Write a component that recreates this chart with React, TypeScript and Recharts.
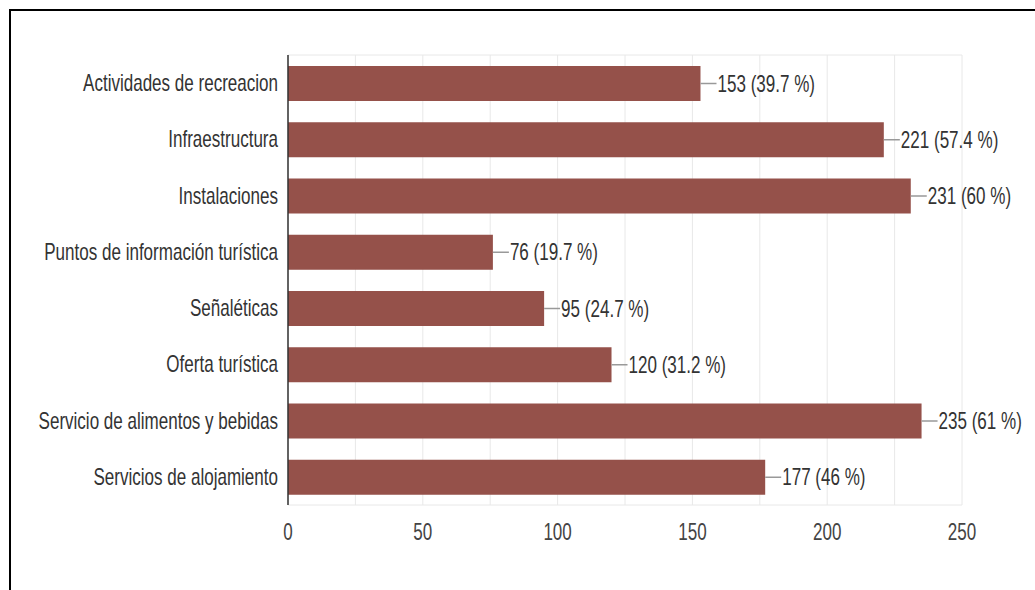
import { BarChart, Bar, XAxis, YAxis, CartesianGrid, LabelList } from 'recharts';

const categories = [
  'Actividades de recreacion',
  'Infraestructura',
  'Instalaciones',
  'Puntos de información turística',
  'Señaléticas',
  'Oferta turística',
  'Servicio de alimentos y bebidas',
  'Servicios de alojamiento',
];
const counts = [153, 221, 231, 76, 95, 120, 235, 177];
const percents = ['39.7', '57.4', '60', '19.7', '24.7', '31.2', '61', '46'];
const xTicks = [0, 25, 50, 75, 100, 125, 150, 175, 200, 225, 250];

const FONT = '"Liberation Sans", Arial, sans-serif';
const SQUEEZE = 0.71;

const data = categories.map((name, i) => ({
  name,
  value: counts[i],
  label: `${counts[i]} (${percents[i]} %)`,
}));

function YTick(props: any) {
  const { x, y, payload } = props;
  return (
    <text
      transform={`translate(${x},${y}) scale(${SQUEEZE},1)`}
      textAnchor="end"
      dy={8}
      fontSize={24}
      fontFamily={FONT}
      fill="#333"
    >
      {payload.value}
    </text>
  );
}

function XTick(props: any) {
  const { x, y, payload } = props;
  if (payload.value % 50 !== 0) return null;
  return (
    <text
      transform={`translate(${x},${y}) scale(${SQUEEZE},1)`}
      textAnchor="middle"
      dy={35}
      fontSize={24}
      fontFamily={FONT}
      fill="#444"
    >
      {payload.value}
    </text>
  );
}

function BarLabel(props: any) {
  const { x, y, width, height, value } = props;
  const end = x + width;
  const cy = y + height / 2;
  return (
    <g>
      <line x1={end} y1={cy} x2={end + 16} y2={cy} stroke="#999" strokeWidth={1.5} />
      <text
        transform={`translate(${end + 17},${cy}) scale(${SQUEEZE},1)`}
        dy={8}
        fontSize={24}
        fontFamily={FONT}
        fill="#333"
      >
        {value}
      </text>
    </g>
  );
}

export default function App() {
  return (
    <div
      style={{
        position: 'fixed',
        left: 0,
        top: 0,
        width: 1035,
        height: 590,
        overflow: 'hidden',
        background: '#fff',
      }}
    >
      <div
        style={{
          position: 'absolute',
          left: 9,
          top: 9,
          width: 1100,
          height: 700,
          borderLeft: '2px solid #000',
          borderTop: '2px solid #000',
        }}
      />
      <div style={{ position: 'absolute', left: 0, top: 0 }}>
        <BarChart
          width={1035}
          height={590}
          data={data}
          layout="vertical"
          margin={{ top: 55, right: 73, bottom: 55, left: 0 }}
          barSize={35}
        >
          <CartesianGrid
            stroke="#e8e8e8"
            horizontalCoordinatesGenerator={({ offset }: any) => [offset.top, offset.top + offset.height]}
          />
          <XAxis
            type="number"
            domain={[0, 250]}
            ticks={xTicks}
            interval={0}
            height={30}
            axisLine={false}
            tickLine={false}
            tickSize={0}
            tickMargin={0}
            tick={<XTick />}
          />
          <YAxis
            type="category"
            dataKey="name"
            width={288}
            interval={0}
            axisLine={{ stroke: '#333', strokeWidth: 1.5 }}
            tickLine={false}
            tickSize={0}
            tickMargin={10}
            tick={<YTick />}
          />
          <Bar dataKey="value" fill="#95514a" isAnimationActive={false}>
            <LabelList dataKey="label" content={<BarLabel />} />
          </Bar>
        </BarChart>
      </div>
    </div>
  );
}
